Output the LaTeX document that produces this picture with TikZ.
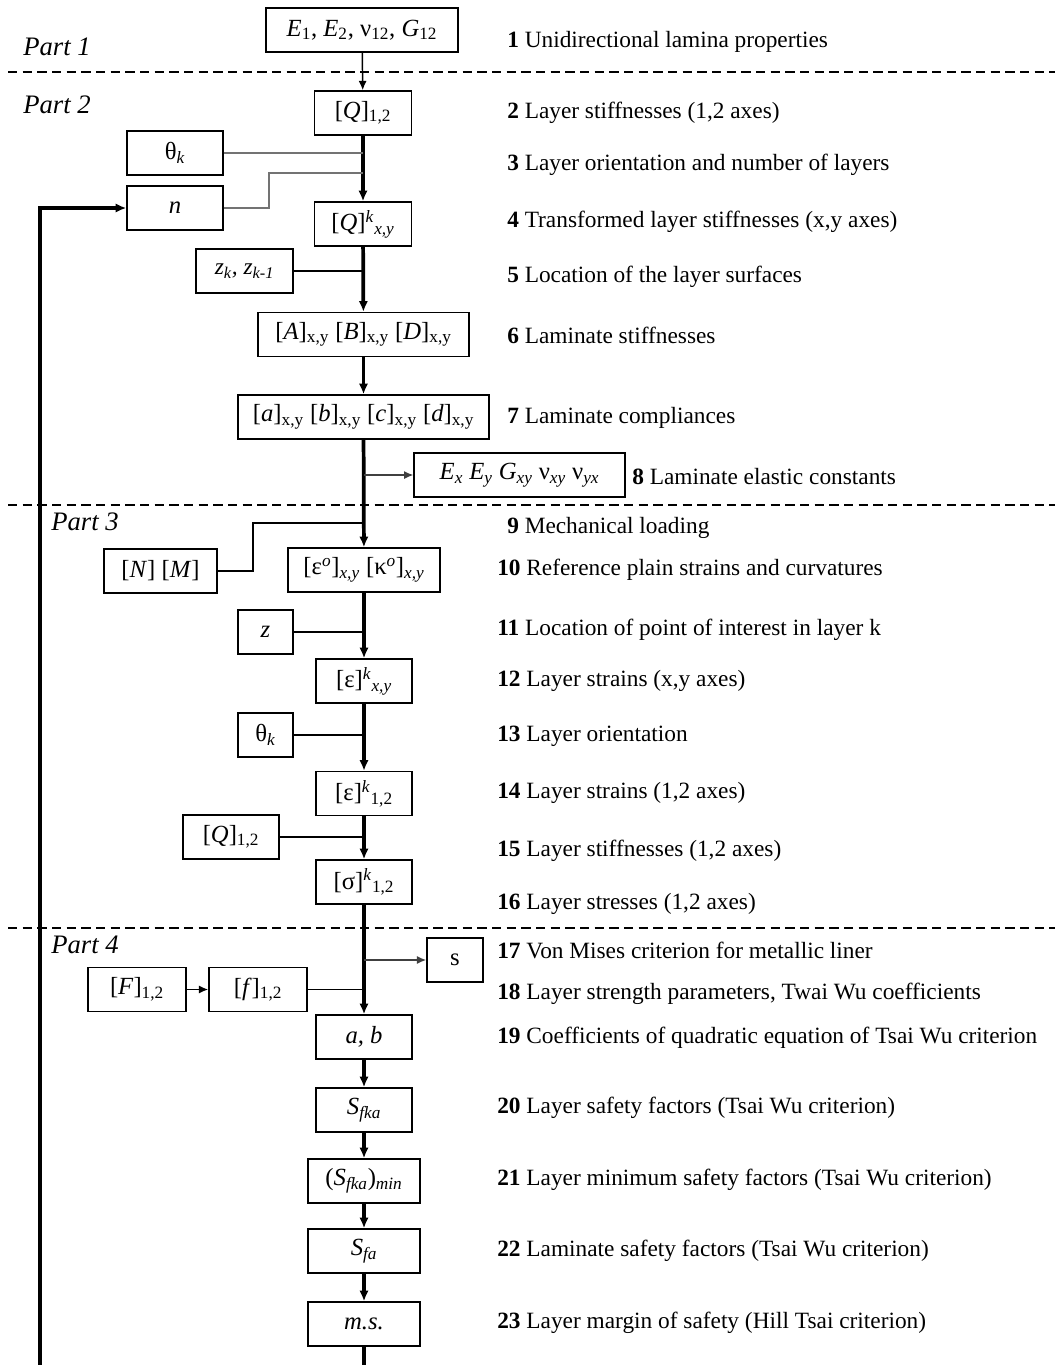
\documentclass[tikz,border=0pt]{standalone}
\usepackage{fontspec}
\setmainfont{Liberation Serif}
\usetikzlibrary{arrows.meta}

\newcommand{\boxfont}{\fontsize{18.5}{22}\selectfont}
\newcommand{\lblfont}{\fontsize{17.5}{20}\selectfont}
\newcommand{\partfont}{\fontsize{20}{24}\selectfont}

\tikzset{
  flow/.style={line width=2.8pt,-{Latex[length=8pt,width=7pt]}},
  thinflow/.style={line width=1.1pt,-{Latex[length=7pt,width=6pt]}},
  inlink/.style={line width=1.1pt},
  sep/.style={line width=0.9pt,dash pattern=on 7pt off 4pt}
}

\begin{document}
\begin{tikzpicture}[x=0.75pt,y=-0.75pt]
\useasboundingbox (0,0) rectangle (1055,1365);

	\begin{scope}[every node/.style={draw,line width=1.1pt,inner sep=0pt,minimum height=33pt,font=\boxfont}]
		% part 1 / part 2
		\node[minimum width=144pt] (props) at (362,30) {\textit{E}\textsubscript{1}, \textit{E}\textsubscript{2}, ν\textsubscript{12}, \textit{G}\textsubscript{12}};
		\node[minimum width=73pt] (q12) at (363,113) {[\textit{Q}]\textsubscript{1,2}};
		\node[minimum width=72pt] (thk) at (175,153) {θ\textsubscript{\textit{k}}};
		\node[minimum width=72pt] (nl) at (175,208) {\textit{n}};
		\node[minimum width=73pt] (qxy) at (363,224) {[\textit{Q}]\textsuperscript{\textit{k}}\textsubscript{\textit{x,y}}};
		\node[minimum width=73pt,font=\lblfont] (zk) at (244.5,271) {\textit{z\textsubscript{k}, z\textsubscript{k-1}}};
		\node[minimum width=158pt] (abd) at (363.5,334.5) {[\textit{A}]\textsubscript{x,y} [\textit{B}]\textsubscript{x,y} [\textit{D}]\textsubscript{x,y}};
		\node[minimum width=188pt] (abcd) at (363.5,417) {[\textit{a}]\textsubscript{x,y} [\textit{b}]\textsubscript{x,y} [\textit{c}]\textsubscript{x,y} [\textit{d}]\textsubscript{x,y}};
		\node[minimum width=158pt] (elast) at (519.5,475) {\textit{E\textsubscript{x} E\textsubscript{y} G\textsubscript{xy}} ν\textsubscript{\textit{xy}} ν\textsubscript{\textit{yx}}};

		% part 3
		\node[minimum width=85pt] (nm) at (160.5,571) {[\textit{N}] [\textit{M}]};
		\node[minimum width=114pt] (eps0) at (364,570) {[ε\textsuperscript{\textit{o}}]\textsubscript{\textit{x,y}} [κ\textsuperscript{\textit{o}}]\textsubscript{\textit{x,y}}};
		\node[minimum width=41pt] (zp) at (265.5,632) {\textit{z}};
		\node[minimum width=72pt] (epsxy) at (364,681) {[ε]\textsuperscript{\textit{k}}\textsubscript{\textit{x,y}}};
		\node[minimum width=41pt] (thk2) at (265.5,735) {θ\textsubscript{\textit{k}}};
		\node[minimum width=72pt] (eps12) at (364,793.5) {[ε]\textsuperscript{\textit{k}}\textsubscript{1,2}};
		\node[minimum width=72pt] (q12b) at (231,837) {[\textit{Q}]\textsubscript{1,2}};
		\node[minimum width=72pt] (sig) at (364,882) {[σ]\textsuperscript{\textit{k}}\textsubscript{1,2}};

		% part 4
		\node[minimum width=42pt] (vm) at (455,960) {s};
		\node[minimum width=73.5pt] (bigf) at (137,989.5) {[\textit{F}]\textsubscript{1,2}};
		\node[minimum width=73.5pt] (smallf) at (258,989.5) {[\textit{f}]\textsubscript{1,2}};
		\node[minimum width=72pt] (ab) at (364,1037) {\textit{a, b}};
		\node[minimum width=72pt] (sfka) at (364,1110) {\textit{S\textsubscript{fka}}};
		\node[minimum width=84pt] (sfkamin) at (364,1181) {(\textit{S\textsubscript{fka}})\textsubscript{\textit{min}}};
		\node[minimum width=84pt] (sfa) at (364,1251) {\textit{S\textsubscript{fa}}};
		\node[minimum width=84pt] (ms) at (364,1324) {\textit{m.s.}};
	\end{scope}

	\begin{scope}[every node/.style={anchor=west,inner sep=0pt,font=\lblfont}]
		\node (l1) at (507,42) {\textbf{1} Unidirectional lamina properties};
		\node (l2) at (507,113) {\textbf{2} Layer stiffnesses (1,2 axes)};
		\node (l3) at (507,165) {\textbf{3} Layer orientation and number of layers};
		\node (l4) at (507,222) {\textbf{4} Transformed layer stiffnesses (x,y axes)};
		\node (l5) at (507,277) {\textbf{5} Location of the layer surfaces};
		\node (l6) at (507,335) {\textbf{6} Laminate stiffnesses};
		\node (l7) at (507,418) {\textbf{7} Laminate compliances};
		\node (l8) at (632,477) {\textbf{8} Laminate elastic constants};
		\node (l9) at (507,528) {\textbf{9} Mechanical loading};
		\node (l10) at (497,570) {\textbf{10} Reference plain strains and curvatures};
		\node (l11) at (497,630) {\textbf{11} Location of point of interest in layer k};
		\node (l12) at (497,681) {\textbf{12} Layer strains (x,y axes)};
		\node (l13) at (497,736) {\textbf{13} Layer orientation};
		\node (l14) at (497,793) {\textbf{14} Layer strains (1,2 axes)};
		\node (l15) at (497,851) {\textbf{15} Layer stiffnesses (1,2 axes)};
		\node (l16) at (497,904) {\textbf{16} Layer stresses (1,2 axes)};
		\node (l17) at (497,950) {\textbf{17} Von Mises criterion for metallic liner};
		\node (l18) at (497,994) {\textbf{18} Layer strength parameters, Twai Wu coefficients};
		\node (l19) at (497,1038) {\textbf{19} Coefficients of quadratic equation of Tsai Wu criterion};
		\node (l20) at (497,1108) {\textbf{20} Layer safety factors (Tsai Wu criterion)};
		\node (l21) at (497,1180) {\textbf{21} Layer minimum safety factors (Tsai Wu criterion)};
		\node (l22) at (497,1251) {\textbf{22} Laminate safety factors (Tsai Wu criterion)};
		\node (l23) at (497,1323) {\textbf{23} Layer margin of safety (Hill Tsai criterion)};
	\end{scope}

	\begin{scope}[every node/.style={anchor=west,inner sep=0pt,font=\partfont}]
		\node (p1) at (23,47) {\textit{Part 1}};
		\node (p2) at (23,105) {\textit{Part 2}};
		\node (p3) at (51,522) {\textit{Part 3}};
		\node (p4) at (51,945) {\textit{Part 4}};
	\end{scope}

	% dashed part borders
	\draw[sep] (8,72) -- (1055,72);
	\draw[sep] (8,505) -- (1055,505);
	\draw[sep] (8,928) -- (1055,928);

	\coordinate (nbend) at (269,173);
	\coordinate (nmbend) at (253,523);
	\coordinate (fbot) at (40,1365);
	\coordinate (mbot) at (364,1365);

	% main flow
	\draw[thinflow] (props) -- (q12);
	\draw[flow] (q12) -- (qxy);
	\draw[flow] (qxy) -- (abd);
	\draw[flow] (abd) -- (abcd);
	\draw[flow] (abcd) -- (eps0);
	\draw[flow] (eps0) -- (epsxy);
	\draw[flow] (epsxy) -- (eps12);
	\draw[flow] (eps12) -- (sig);
	\draw[flow] (sig) -- (ab);
	\draw[flow] (ab) -- (sfka);
	\draw[flow] (sfka) -- (sfkamin);
	\draw[flow] (sfkamin) -- (sfa);
	\draw[flow] (sfa) -- (ms);
	\draw[line width=2.8pt] (ms) -- (mbot);
	\draw[flow] (fbot) |- (nl);

	% side inputs and outputs
	\draw[inlink,black!55,line width=1.5pt] (thk) -- (thk -| q12.south);
	\draw[inlink,black!55,line width=1.5pt] (nl) -| (nbend) -- (nbend -| q12.south);
	\draw[inlink] (zk) -- (zk -| qxy.south);
	\draw[thinflow,black!75] (elast.west -| abcd.south) -- (elast);
	\draw[inlink] (nm) -| (nmbend) -- (nmbend -| eps0.north);
	\draw[inlink] (zp) -- (zp -| eps0.south);
	\draw[inlink] (thk2) -- (thk2 -| epsxy.south);
	\draw[inlink] (q12b) -- (q12b -| eps12.south);
	\draw[thinflow,black!75] (vm.west -| sig.south) -- (vm);
	\draw[thinflow] (bigf) -- (smallf);
	\draw[inlink] (smallf) -- (smallf -| sig.south);
\end{tikzpicture}
\end{document}
